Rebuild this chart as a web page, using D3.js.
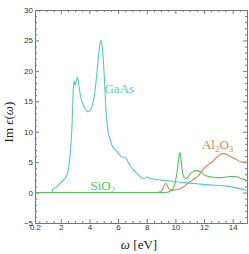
<!DOCTYPE html>
<html>
<head>
<meta charset="utf-8">
<script src="https://cdn.jsdelivr.net/npm/d3@7"></script>
<style>
  body { margin: 0; background: #fff; }
  .tick text { font-family: "Liberation Sans", Arial, sans-serif; font-size: 8px; fill: #333; }
  .axis path, .axis line { stroke: #777; }
  .lbl { font-family: "Liberation Serif", "DejaVu Serif", serif; font-size: 13px; }
</style>
</head>
<body>
<script>
// GaAs
const gaasX = [0.2, 1.4, 1.43, 1.7, 1.95, 2.2, 2.42, 2.58, 2.68, 2.75, 2.8, 2.86, 2.93, 3.0, 3.08, 3.16, 3.25, 3.35, 3.5, 3.7, 3.86, 4.0, 4.16, 4.3, 4.45, 4.6, 4.72, 4.79, 4.86, 4.95, 5.05, 5.16, 5.3, 5.44, 5.6, 5.9, 6.2, 6.35, 6.5, 6.7, 7.0, 7.3, 7.6, 7.8, 8.0, 8.3, 8.8, 9.3, 10.2, 10.8, 11.5, 12.1, 12.8, 13.5, 14.0, 14.5, 15];
const gaasY = [0, 0, 0.5, 0.9, 1.5, 2.1, 2.8, 4.7, 7.0, 9.5, 12, 16.5, 18.4, 17.6, 18.3, 19.0, 17.8, 16.2, 14.8, 13.8, 13.3, 13.4, 14.0, 15.3, 18.0, 21.6, 24.2, 25.0, 24.5, 22.5, 18.5, 13.4, 10.0, 8.8, 7.6, 6.8, 6.0, 5.8, 5.8, 5.0, 3.9, 3.2, 2.5, 2.3, 2.55, 2.3, 2.1, 2.0, 1.73, 1.6, 1.45, 1.3, 1.2, 1.1, 0.9, 0.65, 0.35];

// SiO2
const sio2X = [0.2, 9.3, 9.7, 9.95, 10.1, 10.22, 10.32, 10.42, 10.55, 10.7, 10.85, 11.0, 11.2, 11.5, 11.75, 12.1, 12.55, 13.0, 13.4, 13.8, 14.2, 14.6, 15];
const sio2Y = [0, 0, 0.3, 1.3, 3.1, 5.3, 6.6, 4.8, 2.8, 2.3, 2.5, 3.0, 3.4, 3.6, 3.4, 2.8, 2.55, 2.45, 2.5, 2.65, 2.65, 2.3, 2.0];

// Al2O3
const al2o3X = [0.2, 8.7, 9.0, 9.15, 9.29, 9.4, 9.55, 9.7, 10.0, 10.3, 10.6, 10.85, 11.16, 11.4, 11.62, 11.97, 12.2, 12.55, 12.9, 13.1, 13.25, 13.45, 13.72, 14.18, 14.65, 15];
const al2o3Y = [0, 0, 0.2, 0.8, 1.5, 1.3, 0.6, 0.4, 0.45, 0.6, 1.0, 1.5, 2.0, 2.4, 2.8, 3.9, 4.45, 5.0, 5.8, 6.2, 6.4, 6.4, 6.1, 5.55, 5.0, 5.0];

const xTicks = [0.2, 2, 4, 6, 8, 10, 12, 14];
const yTicks = [-5, 0, 5, 10, 15, 20, 25, 30];

const w = 249, h = 254;
const m = {top: 10, right: 2, bottom: 31, left: 35};

const svg = d3.select("body").append("svg")
  .attr("width", w)
  .attr("height", h);

const x = d3.scaleLinear().domain([0.2, 15]).range([m.left, w - m.right]);
const y = d3.scaleLinear().domain([-5, 30]).range([h - m.bottom, m.top]);

const xMinor = d3.range(0.5, 15.01, 0.5).filter(v => !xTicks.includes(v));
const yMinor = d3.range(-5, 30.01, 1).filter(v => !yTicks.includes(v));

// axes, ticks pointing inward
function addAxis(axisFn, scale, vals, size, pos, labels) {
  const g = svg.append("g").attr("class", "axis")
    .attr("transform", pos)
    .call(axisFn(scale).tickValues(vals).tickSize(size).tickSizeOuter(0)
      .tickFormat(labels ? d3.format("") : ""));
  return g;
}

const bx = addAxis(d3.axisBottom, x, xTicks, -4, `translate(0,${h - m.bottom})`, true);
bx.selectAll("text").attr("dy", "0.55em").attr("y", 3);
addAxis(d3.axisBottom, x, xMinor, -2, `translate(0,${h - m.bottom})`, false);
addAxis(d3.axisTop, x, xTicks, -4, `translate(0,${m.top})`, false);
addAxis(d3.axisTop, x, xMinor, -2, `translate(0,${m.top})`, false);

const ly = addAxis(d3.axisLeft, y, yTicks, -4, `translate(${m.left},0)`, true);
ly.selectAll("text").attr("x", -2);
addAxis(d3.axisLeft, y, yMinor, -2, `translate(${m.left},0)`, false);
addAxis(d3.axisRight, y, yTicks, -4, `translate(${w - m.right},0)`, false);
addAxis(d3.axisRight, y, yMinor, -2, `translate(${w - m.right},0)`, false);

// curves (SiO2 last so its flat line sits on top)
const line = d3.line()
  .x(d => x(d[0]))
  .y(d => y(d[1]))
  .curve(d3.curveMonotoneX);

const series = [
  {xs: al2o3X, ys: al2o3Y, color: "#d4884d"},
  {xs: gaasX, ys: gaasY, color: "#55c9c9"},
  {xs: sio2X, ys: sio2Y, color: "#55c455"}
];

series.forEach(s => {
  svg.append("path")
    .datum(s.xs.map((v, i) => [v, s.ys[i]]))
    .attr("fill", "none")
    .attr("stroke", s.color)
    .attr("stroke-width", 1.1)
    .attr("d", line);
});

// labels
svg.append("text").attr("class", "lbl")
  .attr("x", x(5.05)).attr("y", y(16.4))
  .attr("fill", "#55c9c9")
  .text("GaAs");

const si = svg.append("text").attr("class", "lbl")
  .attr("x", x(4.07)).attr("y", y(0.5))
  .attr("fill", "#55c455");
si.append("tspan").text("SiO");
si.append("tspan").attr("dy", 3).attr("font-size", "9px").text("2");

const al = svg.append("text").attr("class", "lbl")
  .attr("x", x(11.85)).attr("y", y(7.2))
  .attr("fill", "#d4884d");
al.append("tspan").text("Al");
al.append("tspan").attr("dy", 3).attr("font-size", "9px").text("2");
al.append("tspan").attr("dy", -3).text("O");
al.append("tspan").attr("dy", 3).attr("font-size", "9px").text("3");

// axis titles
const xt = svg.append("text").attr("class", "lbl")
  .attr("x", 139).attr("y", 249)
  .attr("text-anchor", "middle")
  .attr("fill", "#222");
xt.append("tspan").attr("font-style", "italic").text("ω");
xt.append("tspan").text(" [eV]");

const yt = svg.append("text").attr("class", "lbl")
  .attr("transform", "translate(13,122) rotate(-90)")
  .attr("text-anchor", "middle")
  .attr("fill", "#222");
yt.append("tspan").text("Im ");
yt.append("tspan").attr("font-style", "italic").text("ϵ");
yt.append("tspan").text("(");
yt.append("tspan").attr("font-style", "italic").text("ω");
yt.append("tspan").text(")");
</script>
</body>
</html>
